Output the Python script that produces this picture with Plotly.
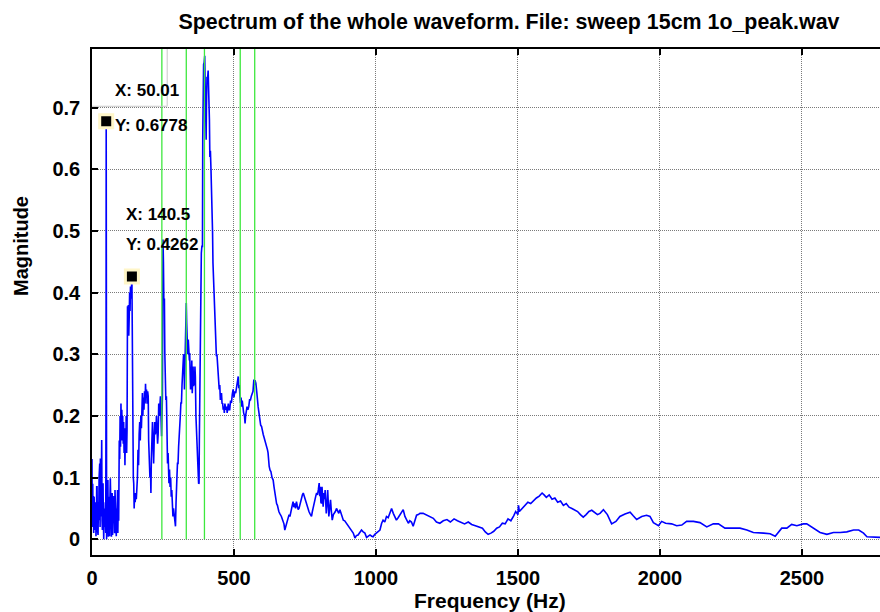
import plotly.graph_objects as go

# ---------------- data ----------------
# spectrum samples, (frequency Hz, magnitude), split into bands
band_0_95 = [(0, 0.13), (1, 0.02), (2.5, 0.09), (3.7, 0.037), (5, 0.07), (6, 0.01), (7.5, 0.069),
             (9.6, 0.015), (11, 0.06), (13, 0.053), (14, 0.005), (15.4, 0.026), (16.5, 0.085),
             (17.8, 0.085), (19, 0.02), (21.3, 0.007), (22.5, 0.06), (23.6, 0.031), (25, 0.1),
             (27.2, 0.123), (28.5, 0.02), (29.5, 0.131), (31, 0.05), (31.9, 0.037), (33, 0.09),
             (34.2, 0.161), (35.5, 0.03), (36.6, 0.015), (38, 0.07), (38.9, 0.091), (40, 0.03),
             (41.3, 0.0), (43, 0.05), (45, 0.02), (47, 0.06), (48.5, 0.01), (49.5, 0.3),
             (50.01, 0.6778), (50.6, 0.2), (51.5, 0.0), (53, 0.053), (54.5, 0.015), (56, 0.096),
             (57.5, 0.004), (59, 0.037), (60.5, 0.069), (62, 0.005), (63, 0.06), (64.5, 0.099),
             (66, 0.015), (67, 0.069), (68.5, 0.004), (70, 0.04), (71, 0.075), (72.5, 0.007),
             (74, 0.058), (75.5, 0.026), (77, 0.07), (78, 0.05), (79.5, 0.01), (81, 0.08),
             (82.5, 0.02), (84, 0.06), (85.5, 0.005), (87, 0.05), (88.5, 0.04), (90, 0.08),
             (91, 0.01), (92.5, 0.06), (94, 0.03), (95, 0.129)]

band_95_250 = [(96, 0.16), (97.5, 0.13), (99, 0.2), (100.5, 0.15), (102, 0.22), (103.5, 0.17),
               (105, 0.21), (106.5, 0.16), (108, 0.2), (110, 0.155), (111.5, 0.19), (113, 0.14),
               (114.5, 0.18), (116, 0.12), (117.5, 0.17), (119, 0.15), (120.5, 0.2), (122, 0.14),
               (123.5, 0.18), (125, 0.378), (126.5, 0.35), (128, 0.38), (129.5, 0.33), (131, 0.36),
               (132.5, 0.40), (134, 0.37), (135.5, 0.41), (137, 0.39), (138.5, 0.40), (140.5, 0.4262),
               (141.5, 0.35), (142.5, 0.145), (144, 0.2), (145.5, 0.1), (147, 0.09), (148.5, 0.05),
               (150, 0.075), (152, 0.06), (154, 0.075), (156, 0.065), (158, 0.08), (160, 0.1),
               (162, 0.145), (164, 0.12), (166, 0.17), (168, 0.19), (170, 0.16), (172, 0.2),
               (174, 0.18), (176, 0.22), (177.5, 0.237), (179, 0.2), (181, 0.23), (183, 0.21),
               (185, 0.24), (187, 0.22), (188.5, 0.252), (190, 0.23), (192, 0.243), (194, 0.22),
               (196, 0.24), (198, 0.232), (199.5, 0.16), (201, 0.118), (202.5, 0.15), (204, 0.1),
               (206, 0.112), (207.5, 0.075), (209, 0.13), (211, 0.177), (213, 0.19), (215, 0.16),
               (217, 0.123), (219, 0.16), (221, 0.19), (223, 0.17), (225, 0.177), (227, 0.2),
               (229, 0.17), (231, 0.155), (233, 0.17), (235, 0.22), (237, 0.2), (239, 0.23),
               (241, 0.232), (243, 0.2), (245, 0.167), (246.5, 0.2), (248, 0.232)]

band_250_600 = [(249, 0.35), (250, 0.486), (251.5, 0.45), (253, 0.389), (255, 0.389), (256.5, 0.3),
                (258, 0.232), (260, 0.226), (262, 0.232), (264, 0.18), (266, 0.123), (268, 0.14),
                (270, 0.1), (271, 0.091), (273, 0.113), (275, 0.085), (277, 0.1), (279, 0.069),
                (281, 0.08), (283, 0.05), (285, 0.037), (287, 0.05), (289, 0.037), (291, 0.026),
                (292.5, 0.03), (294, 0.021), (296, 0.06), (297, 0.091), (299, 0.1), (301, 0.123),
                (303, 0.123), (305, 0.15), (307, 0.177), (309, 0.178), (311, 0.2), (313, 0.221),
                (315, 0.221), (317, 0.25), (319, 0.27), (321, 0.27), (322.5, 0.3), (324, 0.297),
                (325.5, 0.243), (327, 0.28), (328.5, 0.3), (330, 0.34), (331, 0.36), (332, 0.383),
                (333.5, 0.35), (335, 0.324), (337, 0.3), (339, 0.324), (341, 0.3), (343, 0.29),
                (344, 0.302), (345.5, 0.26), (347, 0.243), (348.5, 0.27), (350, 0.264), (351.5, 0.29),
                (353, 0.237), (355, 0.26), (356, 0.28), (357.5, 0.248), (359, 0.27), (361, 0.25),
                (362.5, 0.28), (364, 0.264), (366, 0.2), (368, 0.178), (370, 0.15), (372, 0.12),
                (374, 0.096), (375.5, 0.09), (377, 0.091), (378, 0.16), (379, 0.215), (381, 0.226),
                (382, 0.3), (383.5, 0.45), (385, 0.464), (387, 0.475), (389, 0.475), (390, 0.65),
                (391, 0.757), (393, 0.77), (395, 0.773), (397, 0.784), (398, 0.75), (399.5, 0.71),
                (401, 0.68), (402, 0.648), (403, 0.7), (405, 0.75), (407, 0.745), (409, 0.76),
                (410.5, 0.74), (412, 0.73), (413.5, 0.68), (415, 0.62), (417, 0.63), (419, 0.6),
                (421, 0.57), (423, 0.54), (424.5, 0.5), (426, 0.448), (428, 0.42), (430, 0.378),
                (432, 0.36), (435, 0.334), (436.5, 0.32), (438, 0.297), (440, 0.3), (442, 0.28),
                (444, 0.27), (446, 0.26), (448, 0.243), (450, 0.25), (452, 0.226), (454, 0.23),
                (456, 0.237), (458, 0.22), (460, 0.221), (462, 0.21), (464, 0.215), (466, 0.205),
                (468, 0.22), (471, 0.21), (474, 0.215), (476, 0.205), (478, 0.215), (480, 0.22),
                (482, 0.21), (485, 0.21), (488, 0.225), (491, 0.221), (494, 0.235), (497, 0.243),
                (500, 0.23), (503, 0.24), (506, 0.237), (509, 0.248), (512, 0.255), (515, 0.264),
                (517, 0.245), (519, 0.25), (521, 0.232), (523, 0.221), (525, 0.23), (527, 0.215),
                (529, 0.225), (531, 0.21), (534, 0.205), (537, 0.2), (539, 0.188), (541, 0.2),
                (543, 0.21), (546, 0.215), (549, 0.21), (552, 0.215), (555, 0.226), (558, 0.226),
                (561, 0.232), (564, 0.237), (567, 0.24), (570, 0.259), (572, 0.25), (574, 0.258),
                (577, 0.253), (580, 0.24), (582, 0.226), (585, 0.215), (588, 0.205), (591, 0.19),
                (594, 0.185), (597, 0.183), (600, 0.172)]

band_600_1225 = [(603, 0.17), (606, 0.165), (609, 0.16), (612, 0.158), (615, 0.15), (618, 0.145),
                 (620, 0.14), (622, 0.12), (624, 0.118), (627, 0.112), (630, 0.11), (634, 0.1),
                 (638, 0.096), (641, 0.085), (644, 0.075), (647, 0.07), (650, 0.058), (653, 0.055),
                 (655, 0.05), (658, 0.045), (661, 0.042), (664, 0.04), (667, 0.037), (670, 0.033),
                 (673, 0.03), (676, 0.025), (679, 0.015), (682, 0.02), (685, 0.026), (688, 0.03),
                 (691, 0.034), (694, 0.04), (697, 0.037), (700, 0.045), (702, 0.048), (705, 0.055),
                 (708, 0.061), (711, 0.052), (714, 0.058), (717, 0.05), (720, 0.061), (723, 0.054),
                 (726, 0.048), (729, 0.05), (732, 0.056), (735, 0.062), (738, 0.069), (741, 0.072),
                 (744, 0.075), (747, 0.07), (750, 0.065), (753, 0.06), (755, 0.058), (758, 0.052),
                 (761, 0.05), (764, 0.045), (767, 0.042), (770, 0.04), (773, 0.037), (776, 0.045),
                 (779, 0.053), (782, 0.058), (785, 0.064), (788, 0.07), (791, 0.075), (794, 0.072),
                 (797, 0.08), (800, 0.091), (802, 0.07), (804, 0.085), (806, 0.06), (808, 0.058),
                 (810, 0.085), (812, 0.07), (814, 0.053), (817, 0.075), (819, 0.065), (821, 0.08),
                 (823, 0.055), (825, 0.042), (828, 0.06), (830, 0.08), (832, 0.06), (834, 0.037),
                 (837, 0.05), (840, 0.064), (843, 0.045), (846, 0.031), (850, 0.04), (853, 0.042),
                 (857, 0.045), (861, 0.05), (865, 0.045), (869, 0.042), (873, 0.048), (877, 0.042),
                 (881, 0.038), (885, 0.031), (890, 0.03), (896, 0.026), (902, 0.022), (908, 0.018),
                 (914, 0.014), (920, 0.01), (926, 0.002), (931, 0.006), (937, 0.007), (943, 0.012),
                 (949, 0.015), (955, 0.012), (961, 0.01), (967, 0.003), (973, 0.005), (979, 0.007),
                 (985, 0.005), (990, 0.004), (996, 0.008), (1002, 0.01), (1008, 0.012), (1014, 0.015),
                 (1020, 0.026), (1025, 0.031), (1031, 0.028), (1037, 0.037), (1043, 0.035),
                 (1049, 0.042), (1055, 0.05), (1061, 0.042), (1066, 0.037), (1072, 0.031),
                 (1078, 0.035), (1084, 0.039), (1090, 0.045), (1096, 0.048), (1102, 0.037),
                 (1108, 0.031), (1114, 0.026), (1119, 0.03), (1125, 0.028), (1131, 0.021),
                 (1137, 0.031), (1143, 0.039), (1149, 0.04), (1155, 0.042), (1166, 0.042),
                 (1178, 0.039), (1190, 0.037), (1202, 0.034), (1213, 0.028), (1225, 0.026)]

band_1225_2776 = [(1237, 0.03), (1250, 0.032), (1262, 0.028), (1275, 0.033), (1287, 0.03), (1300, 0.027),
                  (1312, 0.025), (1325, 0.028), (1337, 0.024), (1350, 0.022), (1362, 0.02), (1375, 0.018),
                  (1385, 0.012), (1395, 0.008), (1405, 0.01), (1415, 0.013), (1425, 0.018), (1435, 0.02),
                  (1445, 0.026), (1455, 0.025), (1465, 0.033), (1475, 0.03), (1485, 0.038), (1492, 0.045),
                  (1500, 0.04), (1502, 0.055), (1505, 0.045), (1515, 0.05), (1525, 0.055), (1535, 0.06),
                  (1545, 0.058), (1555, 0.063), (1565, 0.067), (1575, 0.07), (1585, 0.075), (1592, 0.072),
                  (1600, 0.068), (1610, 0.072), (1620, 0.065), (1630, 0.067), (1640, 0.06), (1650, 0.062),
                  (1660, 0.055), (1670, 0.058), (1680, 0.052), (1690, 0.05), (1700, 0.048), (1710, 0.045),
                  (1720, 0.04), (1730, 0.036), (1740, 0.04), (1750, 0.045), (1760, 0.047), (1770, 0.044),
                  (1780, 0.04), (1789, 0.042), (1801, 0.048), (1815, 0.04), (1830, 0.025), (1845, 0.029),
                  (1859, 0.037), (1877, 0.041), (1895, 0.044), (1906, 0.038), (1918, 0.032), (1936, 0.037),
                  (1953, 0.039), (1965, 0.037), (1977, 0.027), (1995, 0.022), (2006, 0.029), (2020, 0.026),
                  (2041, 0.025), (2059, 0.022), (2077, 0.023), (2094, 0.029), (2118, 0.029), (2141, 0.027),
                  (2165, 0.02), (2188, 0.025), (2206, 0.025), (2229, 0.018), (2253, 0.018), (2282, 0.018),
                  (2306, 0.015), (2329, 0.011), (2365, 0.01), (2388, 0.009), (2406, 0.005), (2418, 0.012),
                  (2429, 0.018), (2447, 0.018), (2464, 0.024), (2482, 0.022), (2505, 0.025), (2517, 0.025),
                  (2541, 0.018), (2564, 0.011), (2588, 0.008), (2611, 0.011), (2635, 0.011), (2658, 0.012),
                  (2682, 0.015), (2700, 0.015), (2717, 0.01), (2729, 0.004), (2776, 0.003)]

mode_freqs = [246, 332, 396, 522, 573]          # green marker lines (Hz)
tip_freq = [50.01, 140.5]                        # data tips
tip_mag = [0.6778, 0.4262]
x_ticks = [0, 500, 1000, 1500, 2000, 2500]
y_ticks = [0, 0.1, 0.2, 0.3, 0.4, 0.5, 0.6, 0.7]

title_text = "Spectrum of the whole waveform. File: sweep 15cm 1o_peak.wav"
x_label = "Frequency (Hz)"
y_label = "Magnitude"

# ---------------- figure ----------------
bands = [band_0_95, band_95_250, band_250_600, band_600_1225, band_1225_2776]
freq = [p[0] for b in bands for p in b]
mag = [p[1] for b in bands for p in b]

FONT = "Liberation Sans, Arial, Helvetica, sans-serif"
X_RANGE = [0, 2775]
Y_RANGE = [-0.0255, 0.795]

fig = go.Figure()
fig.add_trace(go.Scatter(x=freq, y=mag, mode="lines",
                         line=dict(color="#0000ff", width=1.6), hoverinfo="skip"))

gx, gy = [], []
for f in mode_freqs:
    gx += [f, f, None]
    gy += [0, Y_RANGE[1], None]
fig.add_trace(go.Scatter(x=gx, y=gy, mode="lines",
                         line=dict(color="#3ee83e", width=1.3), hoverinfo="skip"))

fig.add_trace(go.Scatter(x=tip_freq, y=tip_mag, mode="markers", cliponaxis=False,
                         marker=dict(symbol="square", size=13, color="black",
                                     line=dict(color="#fff6c8", width=3)),
                         hoverinfo="skip"))

# data tip labels
tip_font = dict(family=FONT, size=17, color="black", weight="bold")
offsets = [((7, 31), (7, -4)), ((-8, 62), (-8, 32))]
for (f, m), ((xs1, ys1), (xs2, ys2)) in zip(zip(tip_freq, tip_mag), offsets):
    fig.add_annotation(x=f, y=m, xref="x", yref="y", text=f"X: {f:g}", showarrow=False,
                       xanchor="left", yanchor="middle", xshift=xs1, yshift=ys1, font=tip_font)
    fig.add_annotation(x=f, y=m, xref="x", yref="y", text=f"Y: {m:g}", showarrow=False,
                       xanchor="left", yanchor="middle", xshift=xs2, yshift=ys2, font=tip_font)

# faint outline of the first data-tip box
fig.add_shape(type="rect", xref="x", yref="y", xsizemode="pixel", ysizemode="pixel",
              xanchor=tip_freq[0], yanchor=tip_mag[0], x0=-19, x1=61, y0=15, y1=76,
              line=dict(color="#c8c8c8", width=1), fillcolor="rgba(0,0,0,0)")

axis_common = dict(showgrid=True, gridcolor="#7a7a7a", griddash="1px,1px", gridwidth=1,
                   zeroline=False, ticks="inside", ticklen=6, tickwidth=1.5, tickcolor="black",
                   showline=True, linecolor="black", linewidth=1.6,
                   tickfont=dict(family=FONT, size=20, color="black", weight="bold"))

fig.update_layout(
    width=880, height=612,
    margin=dict(l=92, r=0, t=49, b=57),
    paper_bgcolor="white", plot_bgcolor="white",
    showlegend=False,
    title=dict(text=title_text, x=509 / 880, xref="container", xanchor="center",
               y=1 - 22 / 612, yref="container", yanchor="middle",
               font=dict(family=FONT, size=21.4, color="black", weight="bold")),
    xaxis=dict(range=X_RANGE, tickvals=x_ticks, mirror="ticks", ticklabelstandoff=4, **axis_common),
    yaxis=dict(range=Y_RANGE, tickvals=y_ticks, mirror=False, ticklabelstandoff=6, **axis_common),
)

fig.add_annotation(text=x_label, xref="paper", yref="paper", x=(490 - 92) / 788, y=(555 - 600) / 506,
                   showarrow=False, xanchor="center", yanchor="middle",
                   font=dict(family=FONT, size=21, color="black", weight="bold"))
fig.add_annotation(text=y_label, xref="paper", yref="paper", x=(21 - 92) / 788, y=(555 - 246) / 506,
                   showarrow=False, xanchor="center", yanchor="middle", textangle=-90,
                   font=dict(family=FONT, size=20, color="black", weight="bold"))

fig.write_html("out.html")
